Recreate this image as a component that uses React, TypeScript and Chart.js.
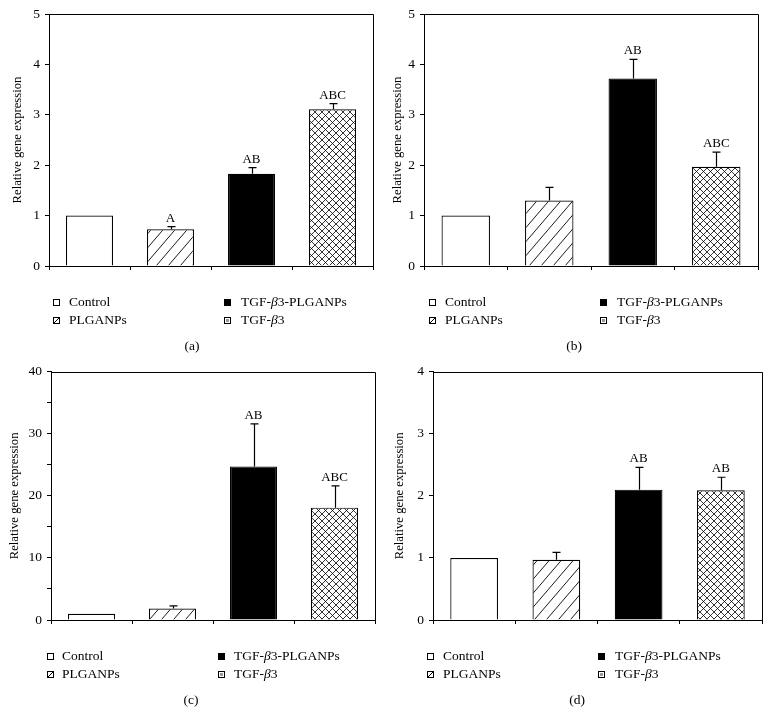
import React, { useEffect, useRef } from 'react';
import { Chart, registerables } from 'chart.js';

Chart.register(...registerables);

// ---------------- DATA ----------------
const categories = ['Control', 'PLGANPs', 'TGF-β3-PLGANPs', 'TGF-β3'];
const yTitle = 'Relative gene expression';

const valuesA = [1.0, 0.73, 1.83, 3.11];
const errorsA = [0, 0.05, 0.12, 0.11];
const lettersA = ['', 'A', 'AB', 'ABC'];
const tickLabelsA = [0, 1, 2, 3, 4, 5];

const valuesB = [1.0, 1.3, 3.72, 1.97];
const errorsB = [0, 0.26, 0.38, 0.29];
const lettersB = ['', '', 'AB', 'ABC'];
const tickLabelsB = [0, 1, 2, 3, 4, 5];

const valuesC = [1.0, 1.85, 24.75, 18.1];
const errorsC = [0, 0.42, 6.85, 3.5];
const lettersC = ['', '', 'AB', 'ABC'];
const tickLabelsC = [0, 10, 20, 30, 40];

const valuesD = [1.0, 0.97, 2.1, 2.09];
const errorsD = [0, 0.12, 0.36, 0.21];
const lettersD = ['', '', 'AB', 'AB'];
const tickLabelsD = [0, 1, 2, 3, 4];

const captions = ['(a)', '(b)', '(c)', '(d)'];

// ---------------- LAYOUT ----------------
const FONT = '"Liberation Serif", "Times New Roman", serif';

type Layout = {
  x: number; y: number; w: number; h: number;
  yAxisW: number; xAxisH: number; padTop: number; padRight: number;
  titlePad: number; boxX: [number, number]; textX: [number, number]; captionX: number;
  yMax: number; step: number;
};

const layouts: Layout[] = [
  { x: 0, y: 0, w: 385, h: 360, yAxisW: 49, xAxisH: 94, padTop: 14, padRight: 12, titlePad: 10, boxX: [53, 224], textX: [69, 241], captionX: 192, yMax: 5, step: 1 },
  { x: 385, y: 0, w: 385, h: 360, yAxisW: 39, xAxisH: 94, padTop: 14, padRight: 12, titlePad: 5.5, boxX: [44, 215], textX: [60, 232], captionX: 189, yMax: 5, step: 1 },
  { x: 0, y: 360, w: 385, h: 364, yAxisW: 51, xAxisH: 104, padTop: 7, padRight: 10, titlePad: 7.5, boxX: [47, 218], textX: [62, 234], captionX: 191, yMax: 40, step: 5 },
  { x: 385, y: 360, w: 385, h: 364, yAxisW: 48, xAxisH: 104, padTop: 7, padRight: 8, titlePad: 7.5, boxX: [42, 213], textX: [58, 230], captionX: 192, yMax: 4, step: 1 },
];

const panelData = [
  { values: valuesA, errors: errorsA, letters: lettersA, tickLabels: tickLabelsA },
  { values: valuesB, errors: errorsB, letters: lettersB, tickLabels: tickLabelsB },
  { values: valuesC, errors: errorsC, letters: lettersC, tickLabels: tickLabelsC },
  { values: valuesD, errors: errorsD, letters: lettersD, tickLabels: tickLabelsD },
];

// ---------------- PATTERNS ----------------
function makeDiagPattern(ctx: CanvasRenderingContext2D, w: number, h: number) {
  const c = document.createElement('canvas');
  c.width = w; c.height = h;
  const g = c.getContext('2d')!;
  g.fillStyle = '#fff';
  g.fillRect(0, 0, w, h);
  g.strokeStyle = '#000';
  g.lineWidth = 0.9;
  g.beginPath();
  for (let n = -1; n <= 3; n++) {
    // line family: x*h + y*w = n*w*h
    g.moveTo((n - 2) * w, 2 * h);
    g.lineTo((n + 1) * w, -h);
  }
  g.stroke();
  return ctx.createPattern(c, 'repeat')!;
}

function makeCrossPattern(ctx: CanvasRenderingContext2D, p: number) {
  const c = document.createElement('canvas');
  c.width = p; c.height = p;
  const g = c.getContext('2d')!;
  g.fillStyle = '#fff';
  g.fillRect(0, 0, p, p);
  g.strokeStyle = '#000';
  g.lineWidth = 0.8;
  g.beginPath();
  for (let n = -1; n <= 1; n++) {
    g.moveTo(n * p - p, 2 * p);
    g.lineTo(n * p + 2 * p, -p);
    g.moveTo(n * p - p, -p);
    g.lineTo(n * p + 2 * p, 2 * p);
  }
  g.stroke();
  return ctx.createPattern(c, 'repeat')!;
}

// ---------------- HELPERS ----------------
function drawRich(ctx: CanvasRenderingContext2D, text: string, x: number, y: number, size: number) {
  const parts = text.split('β');
  let cx = x;
  ctx.textAlign = 'left';
  parts.forEach((part, i) => {
    ctx.font = `${size}px ${FONT}`;
    ctx.fillText(part, cx, y);
    cx += ctx.measureText(part).width;
    if (i < parts.length - 1) {
      ctx.font = `italic ${size}px ${FONT}`;
      ctx.fillText('β', cx, y);
      cx += ctx.measureText('β').width;
    }
  });
}

function drawSwatch(ctx: CanvasRenderingContext2D, kind: number, x: number, yc: number) {
  const s = 7;
  const y = Math.round(yc - s / 2);
  ctx.save();
  ctx.fillStyle = kind === 2 ? '#000' : '#fff';
  ctx.fillRect(x, y, s, s);
  ctx.strokeStyle = '#000';
  ctx.lineWidth = 1;
  if (kind === 1) {
    ctx.beginPath();
    ctx.moveTo(x + 1, y + s - 1);
    ctx.lineTo(x + s - 1, y + 1);
    ctx.stroke();
  }
  if (kind === 3) {
    ctx.fillStyle = '#9a9a9a';
    ctx.fillRect(x + 2, y + 2, s - 4, s - 4);
  }
  ctx.strokeRect(x + 0.5, y + 0.5, s - 1, s - 1);
  ctx.restore();
}

const decorPlugin = {
  id: 'decor',
  afterDatasetsDraw(chart: any, _args: any, opts: any) {
    const ctx: CanvasRenderingContext2D = chart.ctx;
    const ys = chart.scales.y;
    const meta = chart.getDatasetMeta(0);
    const a = chart.chartArea;
    ctx.save();
    // error bars + letters
    meta.data.forEach((bar: any, i: number) => {
      const v = opts.values[i];
      const e = opts.errors[i];
      let top = bar.y;
      if (e > 0) {
        const ye = ys.getPixelForValue(v + e);
        const bx = Math.round(bar.x) + 0.5;
        ctx.strokeStyle = '#000';
        ctx.lineWidth = 1.2;
        ctx.beginPath();
        ctx.moveTo(bx, bar.y);
        ctx.lineTo(bx, ye);
        ctx.moveTo(bx - 4, ye);
        ctx.lineTo(bx + 4, ye);
        ctx.stroke();
        top = ye;
      }
      const letter = opts.letters[i];
      if (letter) {
        ctx.fillStyle = '#000';
        ctx.font = `13px ${FONT}`;
        ctx.textAlign = 'center';
        ctx.textBaseline = 'alphabetic';
        ctx.fillText(letter, bar.x, top - 5);
      }
    });
    // frame (top + right)
    ctx.strokeStyle = '#000';
    ctx.lineWidth = 1;
    ctx.beginPath();
    ctx.moveTo(a.left, Math.round(a.top) + 0.5);
    ctx.lineTo(Math.round(a.right) + 0.5, Math.round(a.top) + 0.5);
    ctx.lineTo(Math.round(a.right) + 0.5, Math.round(a.bottom));
    ctx.stroke();
    // legend
    const L: Layout = opts.layout;
    const r1 = a.bottom + 36;
    const r2 = a.bottom + 54;
    const items = [
      { k: 0, col: 0, y: r1 },
      { k: 1, col: 0, y: r2 },
      { k: 2, col: 1, y: r1 },
      { k: 3, col: 1, y: r2 },
    ];
    items.forEach((it) => {
      drawSwatch(ctx, it.k, L.boxX[it.col], it.y);
      ctx.fillStyle = '#000';
      ctx.textBaseline = 'middle';
      drawRich(ctx, categories[it.k], L.textX[it.col], it.y + 0.5, 13.5);
    });
    ctx.font = `13.5px ${FONT}`;
    ctx.fillStyle = '#000';
    ctx.textAlign = 'center';
    ctx.textBaseline = 'middle';
    ctx.fillText(opts.caption, L.captionX, a.bottom + 80);
    ctx.restore();
  },
};

function makeConfig(idx: number, ctx: CanvasRenderingContext2D): any {
  const L = layouts[idx];
  const d = panelData[idx];
  const fills = ['#ffffff', makeDiagPattern(ctx, 12, 14), '#000000', makeCrossPattern(ctx, 7)];
  return {
    type: 'bar',
    data: {
      labels: categories,
      datasets: [
        {
          data: d.values,
          backgroundColor: fills,
          borderColor: '#000',
          borderWidth: 1.2,
          borderSkipped: 'start',
          categoryPercentage: 1,
          barPercentage: 0.58,
        },
      ],
    },
    options: {
      animation: false,
      responsive: false,
      devicePixelRatio: 1,
      layout: { padding: { top: L.padTop, right: L.padRight, left: 0, bottom: 0 } },
      plugins: {
        legend: { display: false },
        tooltip: { enabled: false },
        decor: { values: d.values, errors: d.errors, letters: d.letters, layout: L, caption: captions[idx] },
      },
      scales: {
        x: {
          type: 'category',
          grid: { display: true, drawOnChartArea: false, drawTicks: true, tickLength: 4, color: '#000', lineWidth: 1, offset: true },
          border: { display: true, color: '#000', width: 1 },
          ticks: { display: false },
          afterFit: (s: any) => { s.height = L.xAxisH; },
        },
        y: {
          min: 0,
          max: L.yMax,
          ticks: {
            stepSize: L.step,
            autoSkip: false,
            color: '#000',
            padding: 5,
            font: { family: FONT, size: 13.5, lineHeight: 1 },
            callback: (v: number) => (d.tickLabels.includes(v) ? String(v) : ''),
          },
          grid: { display: true, drawOnChartArea: false, drawTicks: true, tickLength: 4, color: '#000', lineWidth: 1 },
          border: { display: true, color: '#000', width: 1 },
          title: {
            display: true,
            text: yTitle,
            color: '#000',
            font: { family: FONT, size: 12.7 },
            padding: { top: L.titlePad, bottom: 0 },
          },
          afterFit: (s: any) => { s.width = L.yAxisW; },
        },
      },
    },
    plugins: [decorPlugin],
  };
}

export default function App() {
  const canvases = useRef<(HTMLCanvasElement | null)[]>([]);
  useEffect(() => {
    const charts: Chart[] = [];
    layouts.forEach((_, i) => {
      const cv = canvases.current[i];
      if (!cv) return;
      const ctx = cv.getContext('2d')!;
      charts.push(new Chart(cv, makeConfig(i, ctx)));
    });
    return () => charts.forEach((c) => c.destroy());
  }, []);
  return (
    <div style={{ position: 'absolute', left: 0, top: 0, width: 770, height: 724, background: '#fff' }}>
      {layouts.map((L, i) => (
        <canvas
          key={i}
          ref={(el) => { canvases.current[i] = el; }}
          width={L.w}
          height={L.h}
          style={{ position: 'absolute', left: L.x, top: L.y, width: L.w, height: L.h }}
        />
      ))}
    </div>
  );
}
